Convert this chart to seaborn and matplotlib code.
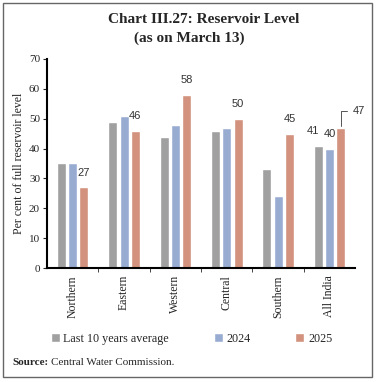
import matplotlib
matplotlib.use("Agg")
import matplotlib.pyplot as plt
import seaborn as sns
import pandas as pd

regions = ["Northern", "Eastern", "Western", "Central", "Southern", "All India"]
avg_10y = [35, 49, 44, 46, 33, 41]
y2024 = [35, 51, 48, 47, 24, 40]
y2025 = [27, 46, 58, 50, 45, 47]
series = ["Last 10 years average", "2024", "2025"]
colors = ["#A0A0A0", "#8EA9DB", "#E08A70"]

df = pd.DataFrame({
    "region": regions * 3,
    "value": avg_10y + y2024 + y2025,
    "series": [s for s in series for _ in regions],
})

sns.set_style("white")
plt.rcParams["font.family"] = ["Liberation Serif", "DejaVu Serif"]

fig = plt.figure(figsize=(3.79, 3.82), dpi=100)
ax = fig.add_axes([0.124, 0.298, 0.813, 0.548])

sns.barplot(data=df, x="region", y="value", hue="series", palette=colors,
            width=0.66, gap=0.2, ax=ax, legend=True)

ax.set_ylim(0, 70)
ax.set_yticks(range(0, 71, 10))
ax.set_xlim(-0.5, len(regions) - 0.5)
ax.set_xlabel("")
ax.set_ylabel("Per cent of full reservoir level", fontsize=8.5, color="#222222", labelpad=3)
ax.tick_params(axis="y", labelsize=8, length=3, direction="out", left=True, pad=2)
ax.tick_params(axis="x", labelsize=8.5, length=0, pad=5)
plt.setp(ax.get_xticklabels(), rotation=90)
# category boundary ticks like Excel
ax.set_xticks([i + 0.5 for i in range(len(regions) - 1)], minor=True)
ax.tick_params(axis="x", which="minor", length=3, direction="out", bottom=True)

for s in ["top", "right"]:
    ax.spines[s].set_visible(False)
for s in ["left", "bottom"]:
    ax.spines[s].set_linewidth(1.5)
    ax.spines[s].set_color("black")

off = 0.22
lab_font = dict(fontsize=8, family=["Liberation Sans", "DejaVu Sans"], color="#333333")
for i, v in enumerate(y2025[:5]):
    ax.annotate(str(v), (i + off, v), xytext=(0, 7), textcoords="offset points",
                ha="center", va="bottom", **lab_font)
i = 5
ax.annotate(str(avg_10y[i]), (i - off, avg_10y[i]), xytext=(-4, 7),
            textcoords="offset points", ha="center", va="bottom", **lab_font)
ax.annotate(str(y2024[i]), (i, y2024[i]), xytext=(0, 7),
            textcoords="offset points", ha="center", va="bottom", **lab_font)
ax.annotate(str(y2025[i]), (i + off, y2025[i]), xytext=(9, 12),
            textcoords="offset points", ha="left", va="center",
            arrowprops=dict(arrowstyle="-", color="#555555", lw=0.7,
                            connectionstyle="angle,angleA=0,angleB=90,rad=0",
                            shrinkA=2, shrinkB=1),
            **lab_font)

handles, labels = ax.get_legend_handles_labels()
ax.get_legend().remove()
fig.legend(handles, labels, loc="center", bbox_to_anchor=(0.505, 0.113), ncol=3,
           frameon=False, fontsize=8.7, handlelength=0.75, handleheight=0.75,
           columnspacing=3.7, handletextpad=0.3)

fig.text(0.538, 0.948, "Chart III.27: Reservoir Level", ha="center", va="center",
         fontsize=11, fontweight="bold")
fig.text(0.499, 0.900, "(as on March 13)", ha="center", va="center", fontsize=11,
         fontweight="bold")

src = fig.text(0.034, 0.05, "Source:", ha="left", va="center", fontsize=8, fontweight="bold")
fig.canvas.draw()
bb = src.get_window_extent(fig.canvas.get_renderer())
x_end = bb.x1 / fig.bbox.width
fig.text(x_end + 0.006, 0.05, "Central Water Commission.", ha="left", va="center", fontsize=8)

fig.patches.append(plt.Rectangle((0.008, 0.013), 0.974, 0.979, transform=fig.transFigure,
                                 fill=False, edgecolor="#666666", linewidth=1.0))

fig.savefig("out.png", dpi=100)
